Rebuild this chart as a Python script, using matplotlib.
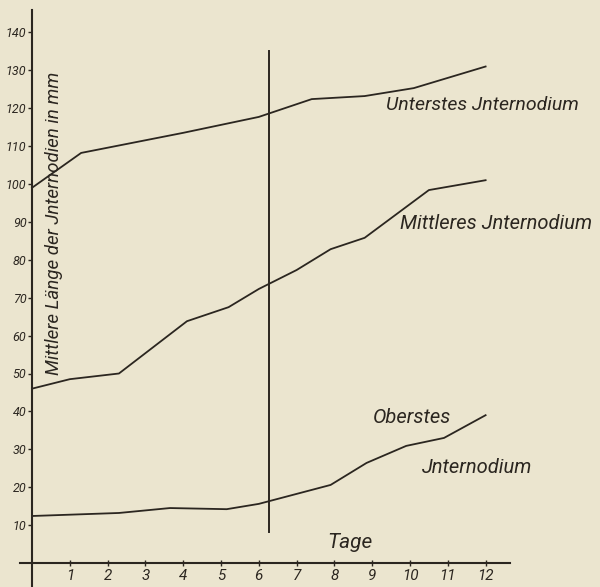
import matplotlib
matplotlib.use("Agg")
import matplotlib.pyplot as plt
import numpy as np

# Tage / mittlere Laenge (mm)
unterstes_tage = [0, 1.3, 4.0, 6.0, 7.4, 8.8, 10.1, 12.0]
unterstes_mm = [99, 108.2, 113.5, 117.7, 122.4, 123.2, 125.3, 131.0]

mittleres_tage = [0, 1.0, 2.3, 4.1, 5.2, 6.0, 7.0, 7.9, 8.8, 10.5, 12.0]
mittleres_mm = [46, 48.5, 50.0, 63.8, 67.5, 72.3, 77.3, 82.8, 85.8, 98.4, 101.0]

oberstes_tage = [0, 2.3, 3.65, 5.15, 6.0, 7.9, 8.85, 9.9, 10.9, 12.0]
oberstes_mm = [12.4, 13.2, 14.5, 14.2, 15.6, 20.6, 26.4, 30.9, 33.0, 39.0]

marker_tag = 6.27
marker_range = [8.3, 135]

x_ticks = list(range(1, 13))
y_ticks = list(range(10, 150, 10))

ink = "#2b2620"
paper = "#ebe5cf"
narrow = ["Roboto", "DejaVu Sans"]

fig = plt.figure(figsize=(6.0, 5.87), dpi=100, facecolor=paper)
ax = fig.add_axes([0, 0, 1, 1])
ax.set_facecolor(paper)

# whole figure is the data area: pixel x = 32 + 37.8*d, pixel y = 563 - 3.79*v
ax.set_xlim(-32 / 37.8, (600 - 32) / 37.8)
ax.set_ylim((563 - 587) / 3.79, 563 / 3.79)

for tage, mm in [(unterstes_tage, unterstes_mm),
                 (mittleres_tage, mittleres_mm),
                 (oberstes_tage, oberstes_mm)]:
    ax.plot(tage, mm, color=ink, lw=1.3, solid_joinstyle="round")

ax.plot([marker_tag, marker_tag], marker_range, color=ink, lw=1.4)

# axes drawn as spines through the origin
for side in ["top", "right"]:
    ax.spines[side].set_visible(False)
ax.spines["left"].set_position(("data", 0))
ax.spines["bottom"].set_position(("data", 0))
ax.spines["left"].set_bounds((563 - 587) / 3.79, 146)
ax.spines["bottom"].set_bounds(-0.32, 12.65)
for side in ["left", "bottom"]:
    ax.spines[side].set_color(ink)
    ax.spines[side].set_linewidth(1.5)

ax.set_xticks(x_ticks)
ax.set_yticks(y_ticks)
ax.tick_params(axis="y", direction="out", length=3, width=1, color=ink, pad=1)
ax.tick_params(axis="x", direction="inout", length=4, width=1, color=ink, pad=2)
for lab in ax.get_xticklabels():
    lab.set_family(narrow)
    lab.set_style("italic")
    lab.set_fontsize(11)
    lab.set_color(ink)
for lab in ax.get_yticklabels():
    lab.set_family(narrow)
    lab.set_style("italic")
    lab.set_fontsize(9)
    lab.set_color(ink)

txt = dict(family=narrow, style="italic", color=ink)
ax.text(0.58, 89.7, "Mittlere Länge der Jnternodien in mm", rotation=90,
        ha="center", va="center", fontsize=13.5, **txt)
ax.text(8.4, 5.5, "Tage", ha="center", va="center", fontsize=15, **txt)
ax.text(9.37, 120.8, "Unterstes Jnternodium", ha="left", va="center", fontsize=14, **txt)
ax.text(9.74, 89.7, "Mittleres Jnternodium", ha="left", va="center", fontsize=14.5, **txt)
ax.text(9.02, 38.3, "Oberstes", ha="left", va="center", fontsize=14.5, **txt)
ax.text(10.32, 25.3, "Jnternodium", ha="left", va="center", fontsize=14.5, **txt)

fig.savefig("out.png", dpi=100, facecolor=paper)
